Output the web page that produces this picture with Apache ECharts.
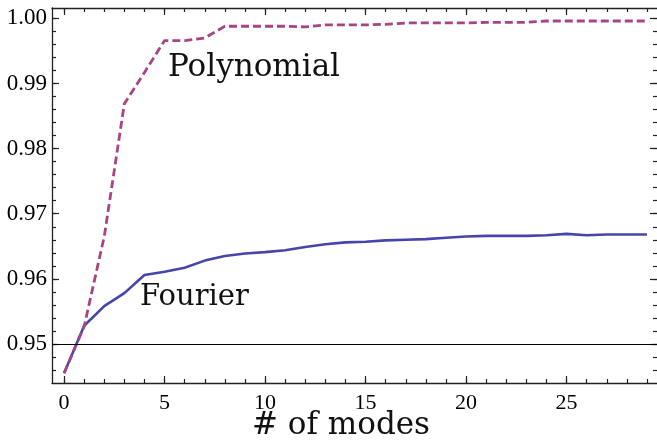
<!DOCTYPE html>
<html>
<head>
<meta charset="utf-8">
<script src="https://cdn.jsdelivr.net/npm/echarts@6/dist/echarts.min.js"></script>
<style>
  html, body { margin: 0; padding: 0; background: #fff; }
  #chart { width: 657px; height: 445px; }
</style>
</head>
<body>
<div id="chart"></div>
<script>
// number of modes on x
var modes = [0, 1, 2, 3, 4, 5, 6, 7, 8, 9, 10, 11, 12, 13, 14, 15, 16, 17, 18, 19, 20, 21, 22, 23, 24, 25, 26, 27, 28, 29];
// values
var polynomial = [0.9455, 0.9527, 0.9665, 0.9869, 0.9917, 0.9966, 0.9966, 0.9970, 0.9988, 0.9988,
                  0.9988, 0.9988, 0.9987, 0.9990, 0.9990, 0.9990, 0.9991, 0.9993, 0.9993, 0.9993,
                  0.9993, 0.9994, 0.9994, 0.9994, 0.9996, 0.9996, 0.9996, 0.9996, 0.9996, 0.9996];
var fourier = [0.9455, 0.9528, 0.9558, 0.9578, 0.9606, 0.9611, 0.9617, 0.9628, 0.9635, 0.9639,
               0.9641, 0.9644, 0.9649, 0.9653, 0.9656, 0.9657, 0.9659, 0.9660, 0.9661, 0.9663,
               0.9665, 0.9666, 0.9666, 0.9666, 0.9667, 0.9669, 0.9667, 0.9668, 0.9668, 0.9668];
var threshold = 0.95;

// tick labels
var xMajorTicks = [0, 5, 10, 15, 20, 25];
var xMinorTicks = [0, 1, 2, 3, 4, 5, 6, 7, 8, 9, 10, 11, 12, 13, 14, 15, 16, 17, 18, 19, 20, 21, 22, 23, 24, 25, 26, 27, 28, 29];
var yMajorTicks = [0.95, 0.96, 0.97, 0.98, 0.99, 1.00];
var yMinorTicks = [0.946, 0.948, 0.950, 0.952, 0.954, 0.956, 0.958, 0.960, 0.962, 0.964, 0.966, 0.968, 0.970,
                   0.972, 0.974, 0.976, 0.978, 0.980, 0.982, 0.984, 0.986, 0.988, 0.990, 0.992, 0.994,
                   0.996, 0.998, 1.000];

var chart = echarts.init(document.getElementById('chart'));

var frame = { show: true, onZero: false, lineStyle: { color: '#222', width: 1.3 } };
var noLine = { show: false, onZero: false };

// one axis for the major ticks (with labels), one for the minor ticks
function xAxis(pos, ticks, len, withLabels) {
    return {
        type: 'value', position: pos, min: -0.6, max: 29.5,
        axisLine: withLabels !== null ? frame : noLine,
        splitLine: { show: false },
        axisTick: { show: true, inside: true, length: len, customValues: ticks, lineStyle: { color: '#222', width: 1.2 } },
        axisLabel: withLabels ? {
            show: true, customValues: ticks, margin: 9,
            fontFamily: 'Liberation Serif', fontSize: 22, color: '#000'
        } : { show: false }
    };
}
function yAxis(pos, ticks, len, withLabels) {
    return {
        type: 'value', position: pos, min: 0.944, max: 1.0016,
        // right edge of the frame is cut off in the picture, only its ticks show
        axisLine: withLabels ? frame : noLine,
        splitLine: { show: false },
        axisTick: { show: true, inside: true, length: len, customValues: ticks, lineStyle: { color: '#222', width: 1.2 } },
        axisLabel: withLabels ? {
            show: true, customValues: ticks, margin: 5,
            fontFamily: 'Liberation Serif', fontSize: 23, color: '#000',
            formatter: function (v) { return v.toFixed(2); }
        } : { show: false }
    };
}

var option = {
    animation: false,
    backgroundColor: '#fff',
    grid: { left: 52, right: -1, top: 8, bottom: 62, containLabel: false },
    xAxis: [
        xAxis('bottom', xMajorTicks, 7, true),
        xAxis('bottom', xMinorTicks, 4, null),
        xAxis('top', xMajorTicks, 7, false),
        xAxis('top', xMinorTicks, 4, null)
    ],
    yAxis: [
        yAxis('left', yMajorTicks, 7, true),
        yAxis('left', yMinorTicks, 4, null),
        yAxis('right', yMajorTicks, 7, false),
        yAxis('right', yMinorTicks, 4, null)
    ],
    series: [
        {
            name: 'Fourier',
            type: 'line',
            showSymbol: false,
            data: modes.map(function (m, i) { return [m, fourier[i]]; }),
            lineStyle: { color: '#4545ad', width: 2.6 },
            markLine: {
                silent: true,
                symbol: ['none', 'none'],
                label: { show: false },
                lineStyle: { color: '#000', width: 1.2, type: 'solid' },
                data: [{ yAxis: threshold }]
            }
        },
        {
            name: 'Polynomial',
            type: 'line',
            showSymbol: false,
            data: modes.map(function (m, i) { return [m, polynomial[i]]; }),
            lineStyle: { color: '#a84483', width: 2.8, type: [8, 4] }
        }
    ],
    graphic: [
        {
            type: 'text', left: 168, top: 52,
            style: { text: 'Polynomial', fontFamily: 'DejaVu Serif', fontSize: 31, fill: '#111' }
        },
        {
            type: 'text', left: 140, top: 283,
            style: { text: 'Fourier', fontFamily: 'DejaVu Serif', fontSize: 29, fill: '#111' }
        },
        {
            type: 'text', left: 252, top: 410,
            style: { text: '# of modes', fontFamily: 'DejaVu Serif', fontSize: 31, fill: '#111' }
        }
    ]
};

chart.setOption(option);
</script>
</body>
</html>
